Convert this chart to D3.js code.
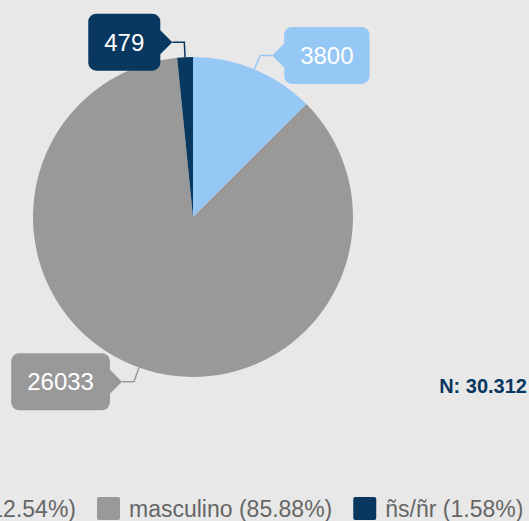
<!DOCTYPE html>
<html>
<head>
<meta charset="utf-8">
<script src="https://cdn.jsdelivr.net/npm/d3@7"></script>
<style>
  html, body { margin: 0; padding: 0; background: #e8e8e8; overflow: hidden; }
  svg { display: block; font-family: "Liberation Sans", Arial, sans-serif; }
</style>
</head>
<body>
<div class="chart"></div>
<script>
var categories = ["feminino", "masculino", "ñs/ñr"];
var values = [3800, 26033, 479];
var percents = ["12.54%", "85.88%", "1.58%"];
var colors = ["#95c8f5", "#999999", "#08375f"];
var totalLabel = "N: 30.312";

var width = 529, height = 521;
var cx = 193, cy = 217, radius = 160;

var svg = d3.select(".chart")
    .append("svg")
    .attr("width", width)
    .attr("height", height);

svg.append("rect")
    .attr("width", width)
    .attr("height", height)
    .attr("fill", "#e8e8e8");

var data = categories.map(function (c, i) {
    return { name: c, value: values[i], pct: percents[i], color: colors[i] };
});

var pie = d3.pie()
    .sort(null)
    .value(function (d) { return d.value; });

var arc = d3.arc()
    .innerRadius(0)
    .outerRadius(radius);

var arcs = pie(data);

var g = svg.append("g")
    .attr("transform", "translate(" + cx + "," + cy + ")");

g.selectAll("path.slice")
    .data(arcs)
    .enter()
    .append("path")
    .attr("class", "slice")
    .attr("d", arc)
    .attr("fill", function (d) { return d.data.color; });

// callout labels
var boxH = 57, pad = 16, tipLen = 12, tipHalf = 12, rr = 8;

function calloutPath(w, side) {
    // box relative to tip at (0,0); side = 1 means box on the right of tip
    var x0, x1;
    if (side > 0) { x0 = tipLen; x1 = tipLen + w; }
    else { x0 = -tipLen - w; x1 = -tipLen; }
    var y0 = -boxH / 2, y1 = boxH / 2;
    var p = d3.path();
    if (side > 0) {
        p.moveTo(0, 0);
        p.lineTo(x0, -tipHalf);
        p.lineTo(x0, y0 + rr);
        p.arcTo(x0, y0, x0 + rr, y0, rr);
        p.lineTo(x1 - rr, y0);
        p.arcTo(x1, y0, x1, y0 + rr, rr);
        p.lineTo(x1, y1 - rr);
        p.arcTo(x1, y1, x1 - rr, y1, rr);
        p.lineTo(x0 + rr, y1);
        p.arcTo(x0, y1, x0, y1 - rr, rr);
        p.lineTo(x0, tipHalf);
        p.closePath();
    } else {
        p.moveTo(0, 0);
        p.lineTo(x1, tipHalf);
        p.lineTo(x1, y1 - rr);
        p.arcTo(x1, y1, x1 - rr, y1, rr);
        p.lineTo(x0 + rr, y1);
        p.arcTo(x0, y1, x0, y1 - rr, rr);
        p.lineTo(x0, y0 + rr);
        p.arcTo(x0, y0, x0 + rr, y0, rr);
        p.lineTo(x1 - rr, y0);
        p.arcTo(x1, y0, x1, y0 + rr, rr);
        p.lineTo(x1, -tipHalf);
        p.closePath();
    }
    return p.toString();
}

arcs.forEach(function (d) {
    var mid = (d.startAngle + d.endAngle) / 2;
    var sx = Math.sin(mid), sy = -Math.cos(mid);
    var edge = [sx * radius, sy * radius];
    var elbow = [sx * (radius + 15), sy * (radius + 15)];
    var side = sx >= 0 ? 1 : -1;
    var tip = [elbow[0] + side * 12, elbow[1]];

    g.append("polyline")
        .attr("points", [edge, elbow, tip].map(function (p) { return p.join(","); }).join(" "))
        .attr("fill", "none")
        .attr("stroke", d.data.color)
        .attr("stroke-width", 1.5);

    var lg = g.append("g")
        .attr("transform", "translate(" + tip[0] + "," + tip[1] + ")");
    var path = lg.append("path").attr("fill", d.data.color);
    var t = lg.append("text")
        .attr("fill", "#ffffff")
        .attr("font-size", 24)
        .attr("dy", "0.35em")
        .attr("text-anchor", "middle")
        .text(d.data.value);
    var w = t.node().getComputedTextLength() + pad * 2;
    path.attr("d", calloutPath(w, side));
    t.attr("x", side * (tipLen + w / 2));
});

// total label
svg.append("text")
    .attr("x", 527)
    .attr("y", 393)
    .attr("text-anchor", "end")
    .attr("font-size", 20)
    .attr("font-weight", "bold")
    .attr("fill", "#08375f")
    .text(totalLabel);

// legend (wider than the view, so the first item is cut at the left edge)
var legend = svg.append("g").attr("class", "legend");
var sq = 23, gap = 9, itemGap = 21, legY = 497;
var items = legend.selectAll("g.item")
    .data(data)
    .enter()
    .append("g")
    .attr("class", "item");
items.append("rect")
    .attr("width", sq)
    .attr("height", sq)
    .attr("rx", 2)
    .attr("fill", function (d) { return d.color; });
items.append("text")
    .attr("x", sq + gap)
    .attr("y", 20)
    .attr("font-size", 23)
    .attr("fill", "#666666")
    .text(function (d) { return d.name + " (" + d.pct + ")"; });

var widths = [];
items.each(function () {
    widths.push(sq + gap + d3.select(this).select("text").node().getComputedTextLength());
});
var offsets = [], acc = 0;
widths.forEach(function (w) { offsets.push(acc); acc += w + itemGap; });
var startX = 97 - offsets[1];
items.attr("transform", function (d, i) {
    return "translate(" + (startX + offsets[i]) + "," + legY + ")";
});
</script>
</body>
</html>
